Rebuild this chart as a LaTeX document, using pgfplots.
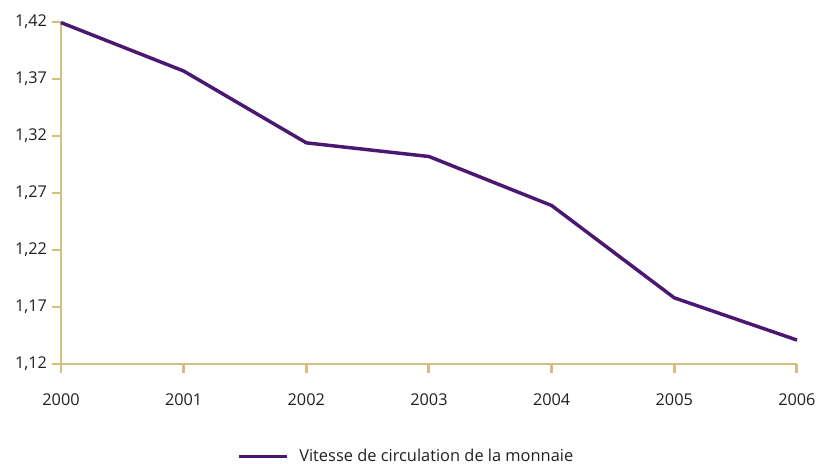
\documentclass[border=0pt]{standalone}
\usepackage{fontspec}
\setmainfont{Open Sans}
\usepackage{pgfplots}
\pgfplotsset{compat=1.18}
\definecolor{axtan}{HTML}{D6BE80}
\definecolor{lpurple}{HTML}{4A1870}
\definecolor{txt}{HTML}{231F20}
\begin{document}
\begin{tikzpicture}[x=0.75pt,y=0.75pt]
\useasboundingbox (-61,-100) rectangle (757,364);
\begin{axis}[
  at={(0,0)}, anchor=origin,
  scale only axis,
  width=552pt, height=256.5pt,
  xmin=2000, xmax=2006, ymin=1.12, ymax=1.42,
  xtick={2000,...,2006},
  ytick={1.12,1.17,1.22,1.27,1.32,1.37,1.42},
  axis lines=left,
  axis line style={-, draw=axtan, line width=2.2pt},
  tick style={draw=axtan, line width=2.2pt},
  major tick length=6.5pt,
  tick align=outside,
  xtick pos=bottom, ytick pos=left,
  clip=false,
  /pgf/number format/assume math mode=true,
  x tick label style={/pgf/number format/1000 sep={}, font=\fontsize{12.2}{14}\selectfont, text=txt, yshift=-12.5pt},
  y tick label style={/pgf/number format/.cd, fixed, fixed zerofill, precision=2, use comma, /tikz/.cd, font=\fontsize{12.2}{14}\selectfont, text=txt, xshift=-0.5pt},
  legend style={at={(0.239,-0.271)}, anchor=west, draw=none, fill=none,
    font=\fontsize{12.3}{14}\selectfont, text=txt, inner sep=0pt,
    legend cell align=left},
  legend image code/.code={\draw[#1] (0pt,0pt) -- (36pt,0pt);},
]
\addplot[color=lpurple, line width=2.6pt, line join=round] coordinates {
(2000,1.4195) (2001,1.377) (2002,1.314) (2003,1.302) (2004,1.259) (2005,1.178) (2006,1.141)
};
\addlegendentry{\hspace{6pt}Vitesse de circulation de la monnaie}
\end{axis}
\end{tikzpicture}
\end{document}
